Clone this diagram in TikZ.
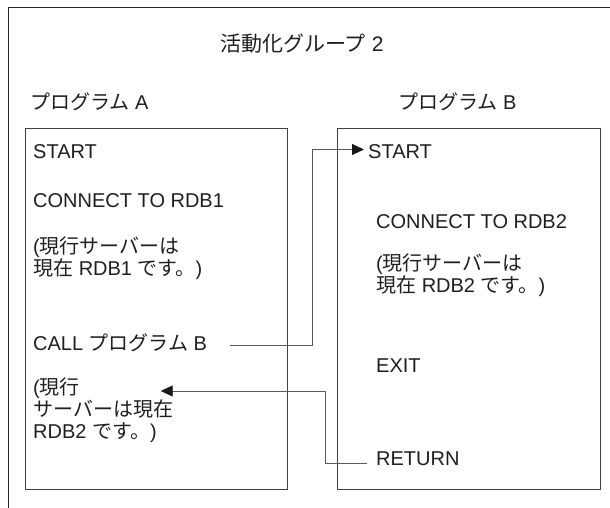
\documentclass[tikz,border=0pt]{standalone}
\usepackage{fontspec}
\setmainfont{Liberation Sans}
\newfontfamily\jpfont{Noto Sans CJK JP}
\newcommand{\J}[1]{{\jpfont #1}}
\usetikzlibrary{arrows.meta}
\begin{document}
\begin{tikzpicture}[x=1pt,y=-1pt,
  lbl/.style={anchor=base west, inner sep=0pt, font=\fontsize{20}{22}\selectfont, text=black!88},
  frame/.style={draw=black!85, line width=1pt},
  box/.style={draw=black!75, line width=1pt, inner sep=0pt, anchor=north west},
  conn/.style={draw=black!65, line width=0.9pt},
  arr/.style={conn, -{Triangle[length=12pt,width=11pt,color=black!90]}}]
\useasboundingbox (0,0) rectangle (610,508);
\fill[white] (0,0) rectangle (610,508);
\draw[frame] (8,508) -- (8,8) -- (610,8);

\node[lbl, font=\fontsize{21}{23}\selectfont] (title) at (220,52) {\J{活動化グループ} 2};
\node[lbl] (progA) at (30,110) {\J{プログラム} A};
\node[lbl] (progB) at (398,110) {\J{プログラム} B};

\node[box, minimum width=262pt, minimum height=361pt] (boxA) at (25,128) {};
\node[box, minimum width=263pt, minimum height=361pt] (boxB) at (337,128) {};

% Program A
\node[lbl] (startA) at (33,158) {START};
\node[lbl] (connA) at (33,207) {CONNECT TO RDB1};
\node[lbl] (curA1) at (33,253) {(\J{現行サーバーは}};
\node[lbl] (curA2) at (33,275) {\J{現在} RDB1 \J{です。})};
\node[lbl] (callA) at (33,350) {CALL \J{プログラム} B};
\node[lbl] (retA1) at (33,394) {(\J{現行}};
\node[lbl] (retA2) at (33,416) {\J{サーバーは現在}};
\node[lbl] (retA3) at (33,438) {RDB2 \J{です。})};

% Program B
\node[lbl] (startB) at (368,158) {START};
\node[lbl] (connB) at (376,228) {CONNECT TO RDB2};
\node[lbl] (curB1) at (376,270) {(\J{現行サーバーは}};
\node[lbl] (curB2) at (376,292) {\J{現在} RDB2 \J{です。})};
\node[lbl] (exitB) at (376,372) {EXIT};
\node[lbl] (returnB) at (376,465) {RETURN};

\coordinate (retTip) at (160.7,391);

\draw[arr] ([xshift=23pt,yshift=5pt]callA.base east) -| (312.7,149.5) -- ([xshift=-4pt,yshift=8.5pt]startB.base west);
\draw[arr] ([xshift=-9pt,yshift=2pt]returnB.base west) -| (325.7,391) -- (retTip);
\end{tikzpicture}
\end{document}
